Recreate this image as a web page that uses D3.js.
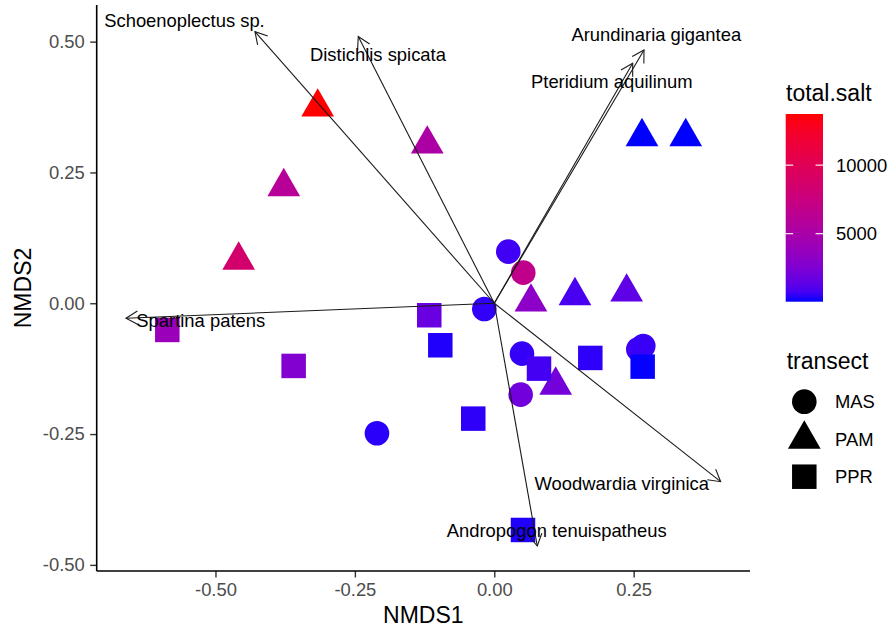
<!DOCTYPE html>
<html><head><meta charset="utf-8">
<script src="https://cdn.jsdelivr.net/npm/d3@7"></script>
<style>
body{margin:0;background:#fff}
text{font-family:"Liberation Sans",Arial,Helvetica,sans-serif}
</style>
</head><body>
<svg id="c" width="890" height="627"></svg>
<script>
// ---- data ----
const transect = ["MAS","MAS","MAS","MAS","MAS","MAS","MAS","MAS",
  "PAM","PAM","PAM","PAM","PAM","PAM","PAM","PAM","PAM","PAM",
  "PPR","PPR","PPR","PPR","PPR","PPR","PPR","PPR","PPR"];
const nmds1 = [0.0251,0.052,-0.0179,0.0497,0.0473,0.2583,0.2672,-0.2104,
  -0.3167,-0.1202,-0.3775,-0.4584,0.2649,0.3433,0.0658,0.1447,0.2374,0.1101,
  -0.1166,-0.0968,0.0802,0.1722,0.2661,-0.0377,0.0515,-0.5864,-0.3598];
const nmds2 = [0.0986,0.0585,-0.0109,-0.0963,-0.1747,-0.0879,-0.0816,-0.2485,
  0.3748,0.3043,0.2227,0.0822,0.3182,0.3182,0.0023,0.0143,0.0212,-0.1567,
  -0.0229,-0.0803,-0.125,-0.1045,-0.1211,-0.2205,-0.4333,-0.051,-0.1198];
const totalSalt = [600,6800,400,450,2000,600,500,300,
  13730,5200,6000,8500,40,40,3200,800,1400,2100,
  1700,200,700,350,60,350,200,4000,2700];

const species = ["Schoenoplectus sp.","Distichlis spicata","Arundinaria gigantea","Pteridium aquilinum",
  "Spartina patens","Woodwardia virginica","Andropogon tenuispatheus"];
const vecX = [-0.4292,-0.2439,0.2685,0.2482,-0.6605,0.406,0.0771];
const vecY = [0.5191,0.5096,0.4841,0.4587,-0.0287,-0.341,-0.4639];
const labX = [-0.5556,-0.2086,0.2905,0.2107,-0.5264,0.2287,0.1119];
const labY = [0.5415,0.4759,0.5147,0.4249,-0.0319,-0.344,-0.4333];

const xTicks = [-0.5,-0.25,0,0.25];
const yTicks = [-0.5,-0.25,0,0.25,0.5];
const saltTicks = [5000,10000];
const transectLevels = ["MAS","PAM","PPR"];

// ---- setup ----
const svg = d3.select("#c");
const P = {l:96.7, r:750, t:5, b:571};
const x = d3.scaleLinear().domain([-0.713,0.4586]).range([P.l,P.r]);
const y = d3.scaleLinear().domain([-0.5117,0.570]).range([P.b,P.t]);
const saltExt = d3.extent(totalSalt);
const col = d3.scaleLinear().domain(saltExt).range(["blue","red"]).interpolate(d3.interpolateLab);

const R = 18.9; // triangle circumradius
function symbolPath(shape, cx, cy){
  if(shape==="MAS"){
    const r=12.3;
    return `M${cx-r},${cy}a${r},${r} 0 1,0 ${2*r},0a${r},${r} 0 1,0 ${-2*r},0Z`;
  } else if(shape==="PAM"){
    const hw=R*Math.sqrt(3)/2;
    return `M${cx},${cy-R}L${cx+hw},${cy+R/2}L${cx-hw},${cy+R/2}Z`;
  } else {
    const h=12.25;
    return `M${cx-h},${cy-h}H${cx+h}V${cy+h}H${cx-h}Z`;
  }
}

// ---- axes ----
const fmt = d => d.toFixed(2);
const gx = svg.append("g").attr("transform",`translate(0,${P.b})`)
  .call(d3.axisBottom(x).tickValues(xTicks).tickFormat(fmt).tickSize(6.5).tickPadding(5.5).tickSizeOuter(0));
const gy = svg.append("g").attr("transform",`translate(${P.l},0)`)
  .call(d3.axisLeft(y).tickValues(yTicks).tickFormat(fmt).tickSize(6.5).tickPadding(5.5).tickSizeOuter(0));
[gx,gy].forEach(g=>{
  g.select(".domain").remove();
  g.selectAll(".tick line").attr("stroke","#333333").attr("stroke-width",1.4);
  g.selectAll(".tick text").attr("fill","#4D4D4D").style("font-size","18.4px")
   .style("font-family",'"Liberation Sans",Arial,sans-serif');
});
svg.append("line").attr("x1",P.l).attr("x2",P.r).attr("y1",P.b).attr("y2",P.b)
  .attr("stroke","#000").attr("stroke-width",1.6);
svg.append("line").attr("x1",P.l).attr("x2",P.l).attr("y1",P.t).attr("y2",P.b)
  .attr("stroke","#000").attr("stroke-width",1.6);

svg.append("text").attr("x",(P.l+P.r)/2).attr("y",623).attr("text-anchor","middle")
  .style("font-size","23px").attr("fill","#000").text("NMDS1");
svg.append("text").attr("transform",`translate(31,${(P.t+P.b)/2}) rotate(-90)`).attr("text-anchor","middle")
  .style("font-size","23px").attr("fill","#000").text("NMDS2");

// ---- points ----
const idx = d3.range(nmds1.length);
svg.append("g").selectAll("path").data(idx).join("path")
  .attr("d", i=>symbolPath(transect[i], x(nmds1[i]), y(nmds2[i])))
  .attr("fill", i=>col(totalSalt[i]));

// ---- vectors ----
const gv = svg.append("g").attr("stroke","#1a1a1a").attr("stroke-width",1.1).attr("fill","none");
const AL = 13.5, ang = Math.PI/6;
species.forEach((s,i)=>{
  const x0=x(0), y0=y(0), x1=x(vecX[i]), y1=y(vecY[i]);
  gv.append("line").attr("x1",x0).attr("y1",y0).attr("x2",x1).attr("y2",y1);
  const th = Math.atan2(y1-y0, x1-x0);
  const pts = [[x1-AL*Math.cos(th-ang), y1-AL*Math.sin(th-ang)],[x1,y1],[x1-AL*Math.cos(th+ang), y1-AL*Math.sin(th+ang)]];
  gv.append("path").attr("d", d3.line()(pts));
});
svg.append("g").selectAll("text").data(species).join("text")
  .attr("x",(d,i)=>x(labX[i])).attr("y",(d,i)=>y(labY[i])).attr("dy","0.36em")
  .attr("text-anchor","middle").style("font-size","18.4px").attr("fill","#000").text(d=>d);

// ---- colour legend ----
const cb = {x:785.7, w:37.3, top:114, bot:301.7};
const cy = d3.scaleLinear().domain(saltExt).range([cb.bot, cb.top]);
svg.append("text").attr("x",786).attr("y",101).style("font-size","23px").attr("fill","#000").text("total.salt");
const defs = svg.append("defs");
const grad = defs.append("linearGradient").attr("id","g1").attr("x1",0).attr("x2",0).attr("y1",1).attr("y2",0);
d3.range(0,1.0001,0.05).forEach(t=>{
  grad.append("stop").attr("offset",t).attr("stop-color", col(saltExt[0]+t*(saltExt[1]-saltExt[0])));
});
svg.append("rect").attr("x",cb.x).attr("y",cb.top).attr("width",cb.w).attr("height",cb.bot-cb.top).attr("fill","url(#g1)");
saltTicks.forEach(v=>{
  const yy=cy(v);
  svg.append("line").attr("x1",cb.x).attr("x2",cb.x+cb.w/5).attr("y1",yy).attr("y2",yy).attr("stroke","#fff").attr("stroke-width",1.1);
  svg.append("line").attr("x1",cb.x+cb.w*4/5).attr("x2",cb.x+cb.w).attr("y1",yy).attr("y2",yy).attr("stroke","#fff").attr("stroke-width",1.1);
  svg.append("text").attr("x",836).attr("y",yy).attr("dy","0.36em").style("font-size","18.4px").attr("fill","#000").text(v);
});

// ---- shape legend ----
svg.append("text").attr("x",786.7).attr("y",369).style("font-size","23px").attr("fill","#000").text("transect");
transectLevels.forEach((t,k)=>{
  const yy = 401.7 + k*37.5;
  svg.append("path").attr("d",symbolPath(t,804.3,yy)).attr("fill","#000");
  svg.append("text").attr("x",835).attr("y",yy).attr("dy","0.36em").style("font-size","18.4px").attr("fill","#000").text(t);
});
</script>
</body></html>
